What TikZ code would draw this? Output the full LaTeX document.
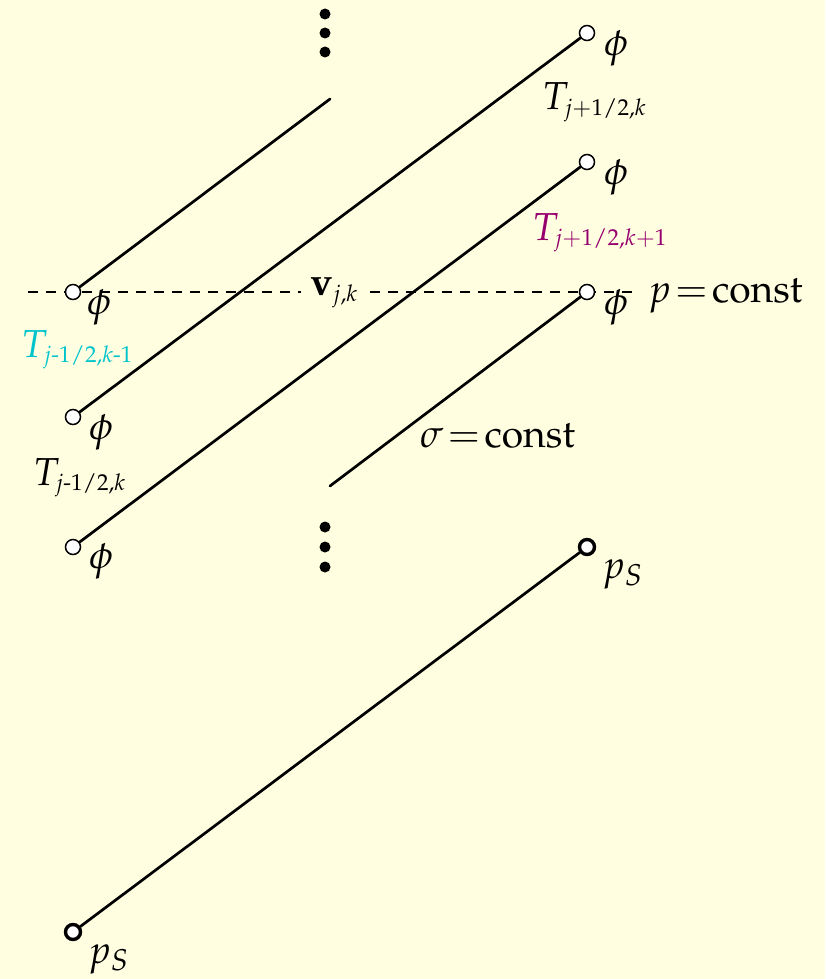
\documentclass[tikz,border=0pt]{standalone}
\usepackage[T1]{fontenc}
\usepackage{mathpazo}
\usepackage{amsmath}
\DeclareMathSizes{39}{39}{23}{17}
\definecolor{bg}{RGB}{255,254,224}
\definecolor{tcyan}{RGB}{0,196,204}
\definecolor{tmag}{RGB}{150,0,110}
\newcommand{\bigsub}[1]{\mbox{\fontsize{30}{30}\selectfont$#1$}}
\tikzset{
  every node/.style={font=\fontsize{39}{46}\selectfont, inner sep=0pt},
  grid/.style={line width=2.7pt, line cap=round},
  gridpt/.style={circle, draw, fill=white, line width=1.5pt, minimum size=15pt},
  surfpt/.style={circle, draw, fill=white, line width=3.4pt, minimum size=15pt},
  lvl/.style={line width=1.4pt, dash pattern=on 10pt off 8pt},
  vdot/.style={circle, fill=black, minimum size=11pt},
  lbl/.style={anchor=base west},
}
\begin{document}
\begin{tikzpicture}[x=1pt,y=-1pt]
\fill[bg] (0,0) rectangle (825,979);
\useasboundingbox (0,0) rectangle (825,979);
% vertical dots
\node[vdot] (d1) at (325,14) {};
\node[vdot] (d2) at (325,33) {};
\node[vdot] (d3) at (325,52) {};
\node[vdot] (d4) at (325,527) {};
\node[vdot] (d5) at (325,547) {};
\node[vdot] (d6) at (325,567) {};
% dashed p=const line
\coordinate (dl) at (28,292);
\coordinate (dr) at (637,292);
\draw[lvl] (dl) -- (dr);
\node[fill=bg, inner xsep=9pt, inner ysep=2pt] (vjk) at (334,293) {$\mathbf{v}_{j,k}$};
% free ends
\coordinate (e1) at (330,99);
\coordinate (e4) at (330,486);
% grid points
\node[gridpt] (a1) at (73,292) {};
\node[gridpt] (a2) at (73,417) {};
\node[gridpt] (a3) at (73,547) {};
\node[gridpt] (b1) at (587,33) {};
\node[gridpt] (b2) at (587,162) {};
\node[gridpt] (b3) at (587,292) {};
\node[surfpt] (s1) at (73,932) {};
\node[surfpt] (s2) at (587,547) {};
% sigma lines
\draw[grid] (a1) -- (e1);
\draw[grid] (a2) -- (b1);
\draw[grid] (a3) -- (b2);
\draw[grid] (e4) -- (b3);
\draw[grid] (s1) -- (s2);
% phi labels
\node (pb1) at (616,48) {$\phi$};
\node (pb2) at (616,177) {$\phi$};
\node (pb3) at (616,307) {$\phi$};
\node (pa1) at (99,307) {$\phi$};
\node (pa2) at (101,432) {$\phi$};
\node (pa3) at (101,561) {$\phi$};
% T labels
\node[lbl] (t1) at (542,110) {$T_{j+1/2,k}$};
\node[lbl, text=tmag] (t2) at (532,240) {$T_{j+1/2,k+1}$};
\node[lbl, text=tcyan] (t3) at (21,357) {$T_{j\text{-}1/2,k\text{-}1}$};
\node[lbl] (t4) at (33,485) {$T_{j\text{-}1/2,k}$};
% other labels
\node[lbl] (pc) at (648,302) {$p\!=\!\mathrm{const}$};
\node[lbl] (sc) at (420,447) {$\sigma\!=\!\mathrm{const}$};
\node[lbl] (ps2) at (602,578) {$p_{\bigsub{S}}$};
\node[lbl] (ps1) at (88,963) {$p_{\bigsub{S}}$};
\end{tikzpicture}
\end{document}
